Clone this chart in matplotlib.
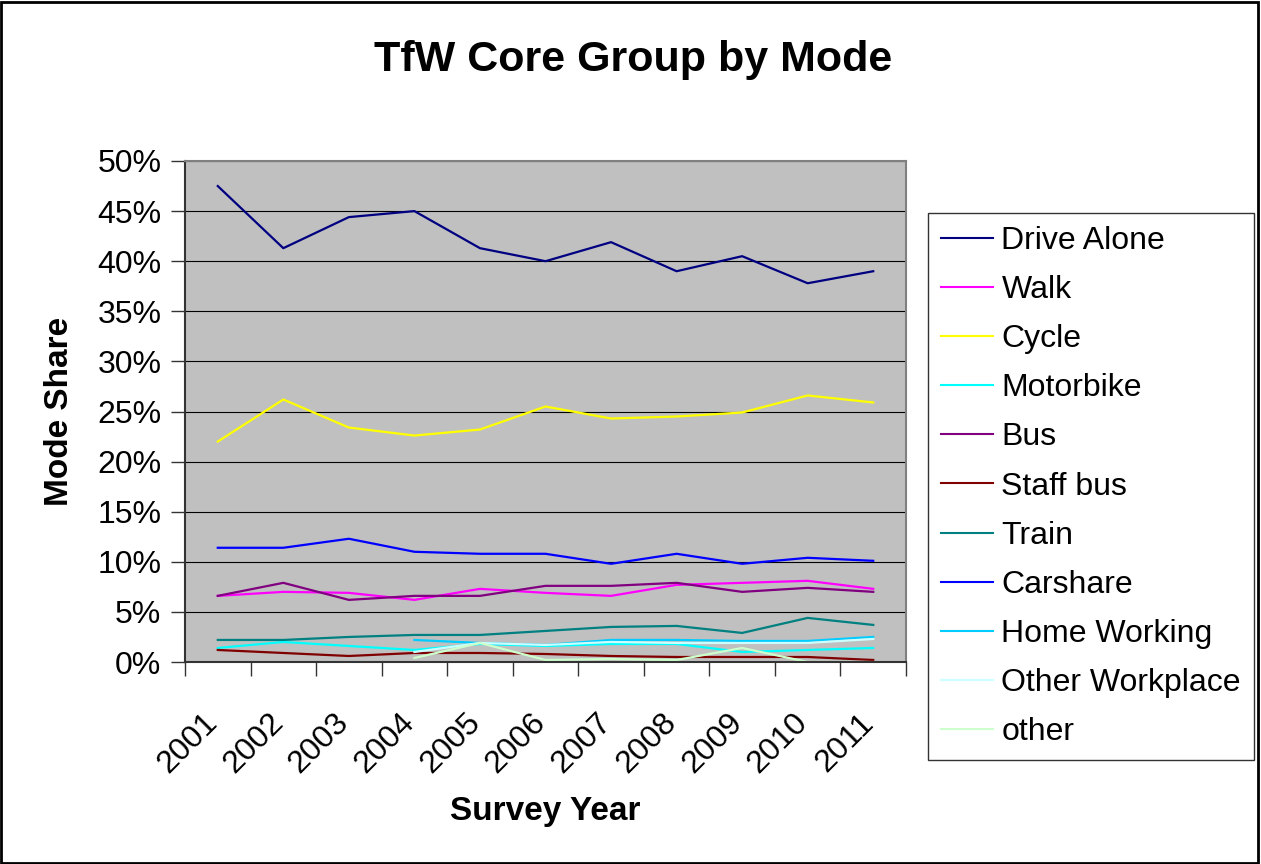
import matplotlib
matplotlib.use("Agg")
import matplotlib.pyplot as plt
import matplotlib.transforms as mtransforms
from matplotlib.patches import Rectangle
import numpy as np

plt.rcParams["font.family"] = ["Liberation Sans", "DejaVu Sans"]

years = ["2001", "2002", "2003", "2004", "2005", "2006",
         "2007", "2008", "2009", "2010", "2011"]
nan = np.nan

drive_alone = [47.5, 41.3, 44.4, 45.0, 41.3, 40.0, 41.9, 39.0, 40.5, 37.8, 39.0]
walk = [6.6, 7.0, 6.9, 6.2, 7.3, 6.9, 6.6, 7.7, 7.9, 8.1, 7.3]
cycle = [22.0, 26.2, 23.4, 22.6, 23.2, 25.5, 24.3, 24.5, 24.9, 26.6, 25.9]
motorbike = [1.4, 2.0, 1.6, 1.2, 1.8, 1.6, 1.8, 1.8, 1.0, 1.2, 1.4]
bus = [6.6, 7.9, 6.2, 6.6, 6.6, 7.6, 7.6, 7.9, 7.0, 7.4, 7.0]
staff_bus = [1.2, 0.9, 0.6, 0.9, 0.9, 0.8, 0.6, 0.5, 0.5, 0.5, 0.2]
train = [2.2, 2.2, 2.5, 2.7, 2.7, 3.1, 3.5, 3.6, 2.9, 4.4, 3.7]
carshare = [11.4, 11.4, 12.3, 11.0, 10.8, 10.8, 9.8, 10.8, 9.8, 10.4, 10.1]
home_working = [nan, nan, nan, 2.2, 1.9, 1.7, 2.2, 2.2, 2.1, 2.1, 2.5]
other_workplace = [nan, nan, nan, 1.0, 1.9, 1.7, 2.0, 1.9, 1.9, 1.9, 2.3]
other = [nan, nan, nan, 0.4, 1.9, 0.2, 0.3, 0.2, 1.4, 0.0, 0.0]

series = [
    ("Drive Alone", drive_alone, "#000080"),
    ("Walk", walk, "#FF00FF"),
    ("Cycle", cycle, "#FFFF00"),
    ("Motorbike", motorbike, "#00FFFF"),
    ("Bus", bus, "#800080"),
    ("Staff bus", staff_bus, "#800000"),
    ("Train", train, "#008080"),
    ("Carshare", carshare, "#0000FF"),
    ("Home Working", home_working, "#00CCFF"),
    ("Other Workplace", other_workplace, "#CCFFFF"),
    ("other", other, "#CCFFCC"),
]

fig = plt.figure(figsize=(12.61, 8.64), dpi=100)
ax = fig.add_axes([185 / 1261, 1 - 662 / 864, (906 - 185) / 1261, (662 - 161) / 864])
ax.set_facecolor("#C0C0C0")

x = np.arange(len(years))
for name, vals, color in series:
    ax.plot(x, vals, color=color, linewidth=1.6, label=name)

ax.set_xlim(-0.5, len(years) - 0.5)
ax.set_ylim(0, 50)
ax.set_yticks(np.arange(0, 51, 5))
ax.set_yticklabels([f"{v}%" for v in range(0, 51, 5)], fontsize=23)
ax.yaxis.grid(True, color="#000000", linewidth=0.8)
ax.set_axisbelow(True)
ax.tick_params(axis="y", length=10, width=1, color="#333333", pad=7)

# category labels at centres, tick marks at boundaries
ax.set_xticks(x)
ax.set_xticklabels(years, fontsize=23, rotation=45, ha="right", va="top",
                   rotation_mode="anchor")
ax.set_xticks(np.arange(-0.5, len(years)), minor=True)
ax.tick_params(axis="x", which="major", length=0, pad=33)
ax.tick_params(axis="x", which="minor", length=10, width=1, color="#333333")
shift = mtransforms.ScaledTranslation(-0.15, 0, fig.dpi_scale_trans)
for lab in ax.get_xticklabels():
    lab.set_transform(lab.get_transform() + shift)

for side in ["left", "bottom"]:
    ax.spines[side].set_color("#333333")
    ax.spines[side].set_linewidth(1.5)
for side in ["top", "right"]:
    ax.spines[side].set_color("#808080")
    ax.spines[side].set_linewidth(1.5)

ax.set_xlabel("Survey Year", fontsize=24, fontweight="bold", labelpad=12)
ax.set_ylabel("Mode Share", fontsize=24, fontweight="bold", labelpad=16)
fig.text(633 / 1261, 1 - 60 / 864, "TfW Core Group by Mode", fontsize=31,
         fontweight="bold", ha="center", va="center")

leg = fig.legend(loc="upper left", bbox_to_anchor=(928 / 1261, 1 - 213 / 864),
                 fontsize=23, frameon=True, fancybox=False, edgecolor="#000000",
                 handlelength=1.65, handletextpad=0.25, labelspacing=0.6,
                 borderpad=0.4, borderaxespad=0)
leg.get_frame().set_linewidth(1.0)
for ln in leg.get_lines():
    ln.set_linewidth(1.5)

fig.patches.append(Rectangle((0.001, 0.001), 0.997, 0.997, transform=fig.transFigure,
                             fill=False, edgecolor="#000000", linewidth=2))

fig.savefig("out.png", dpi=100)
